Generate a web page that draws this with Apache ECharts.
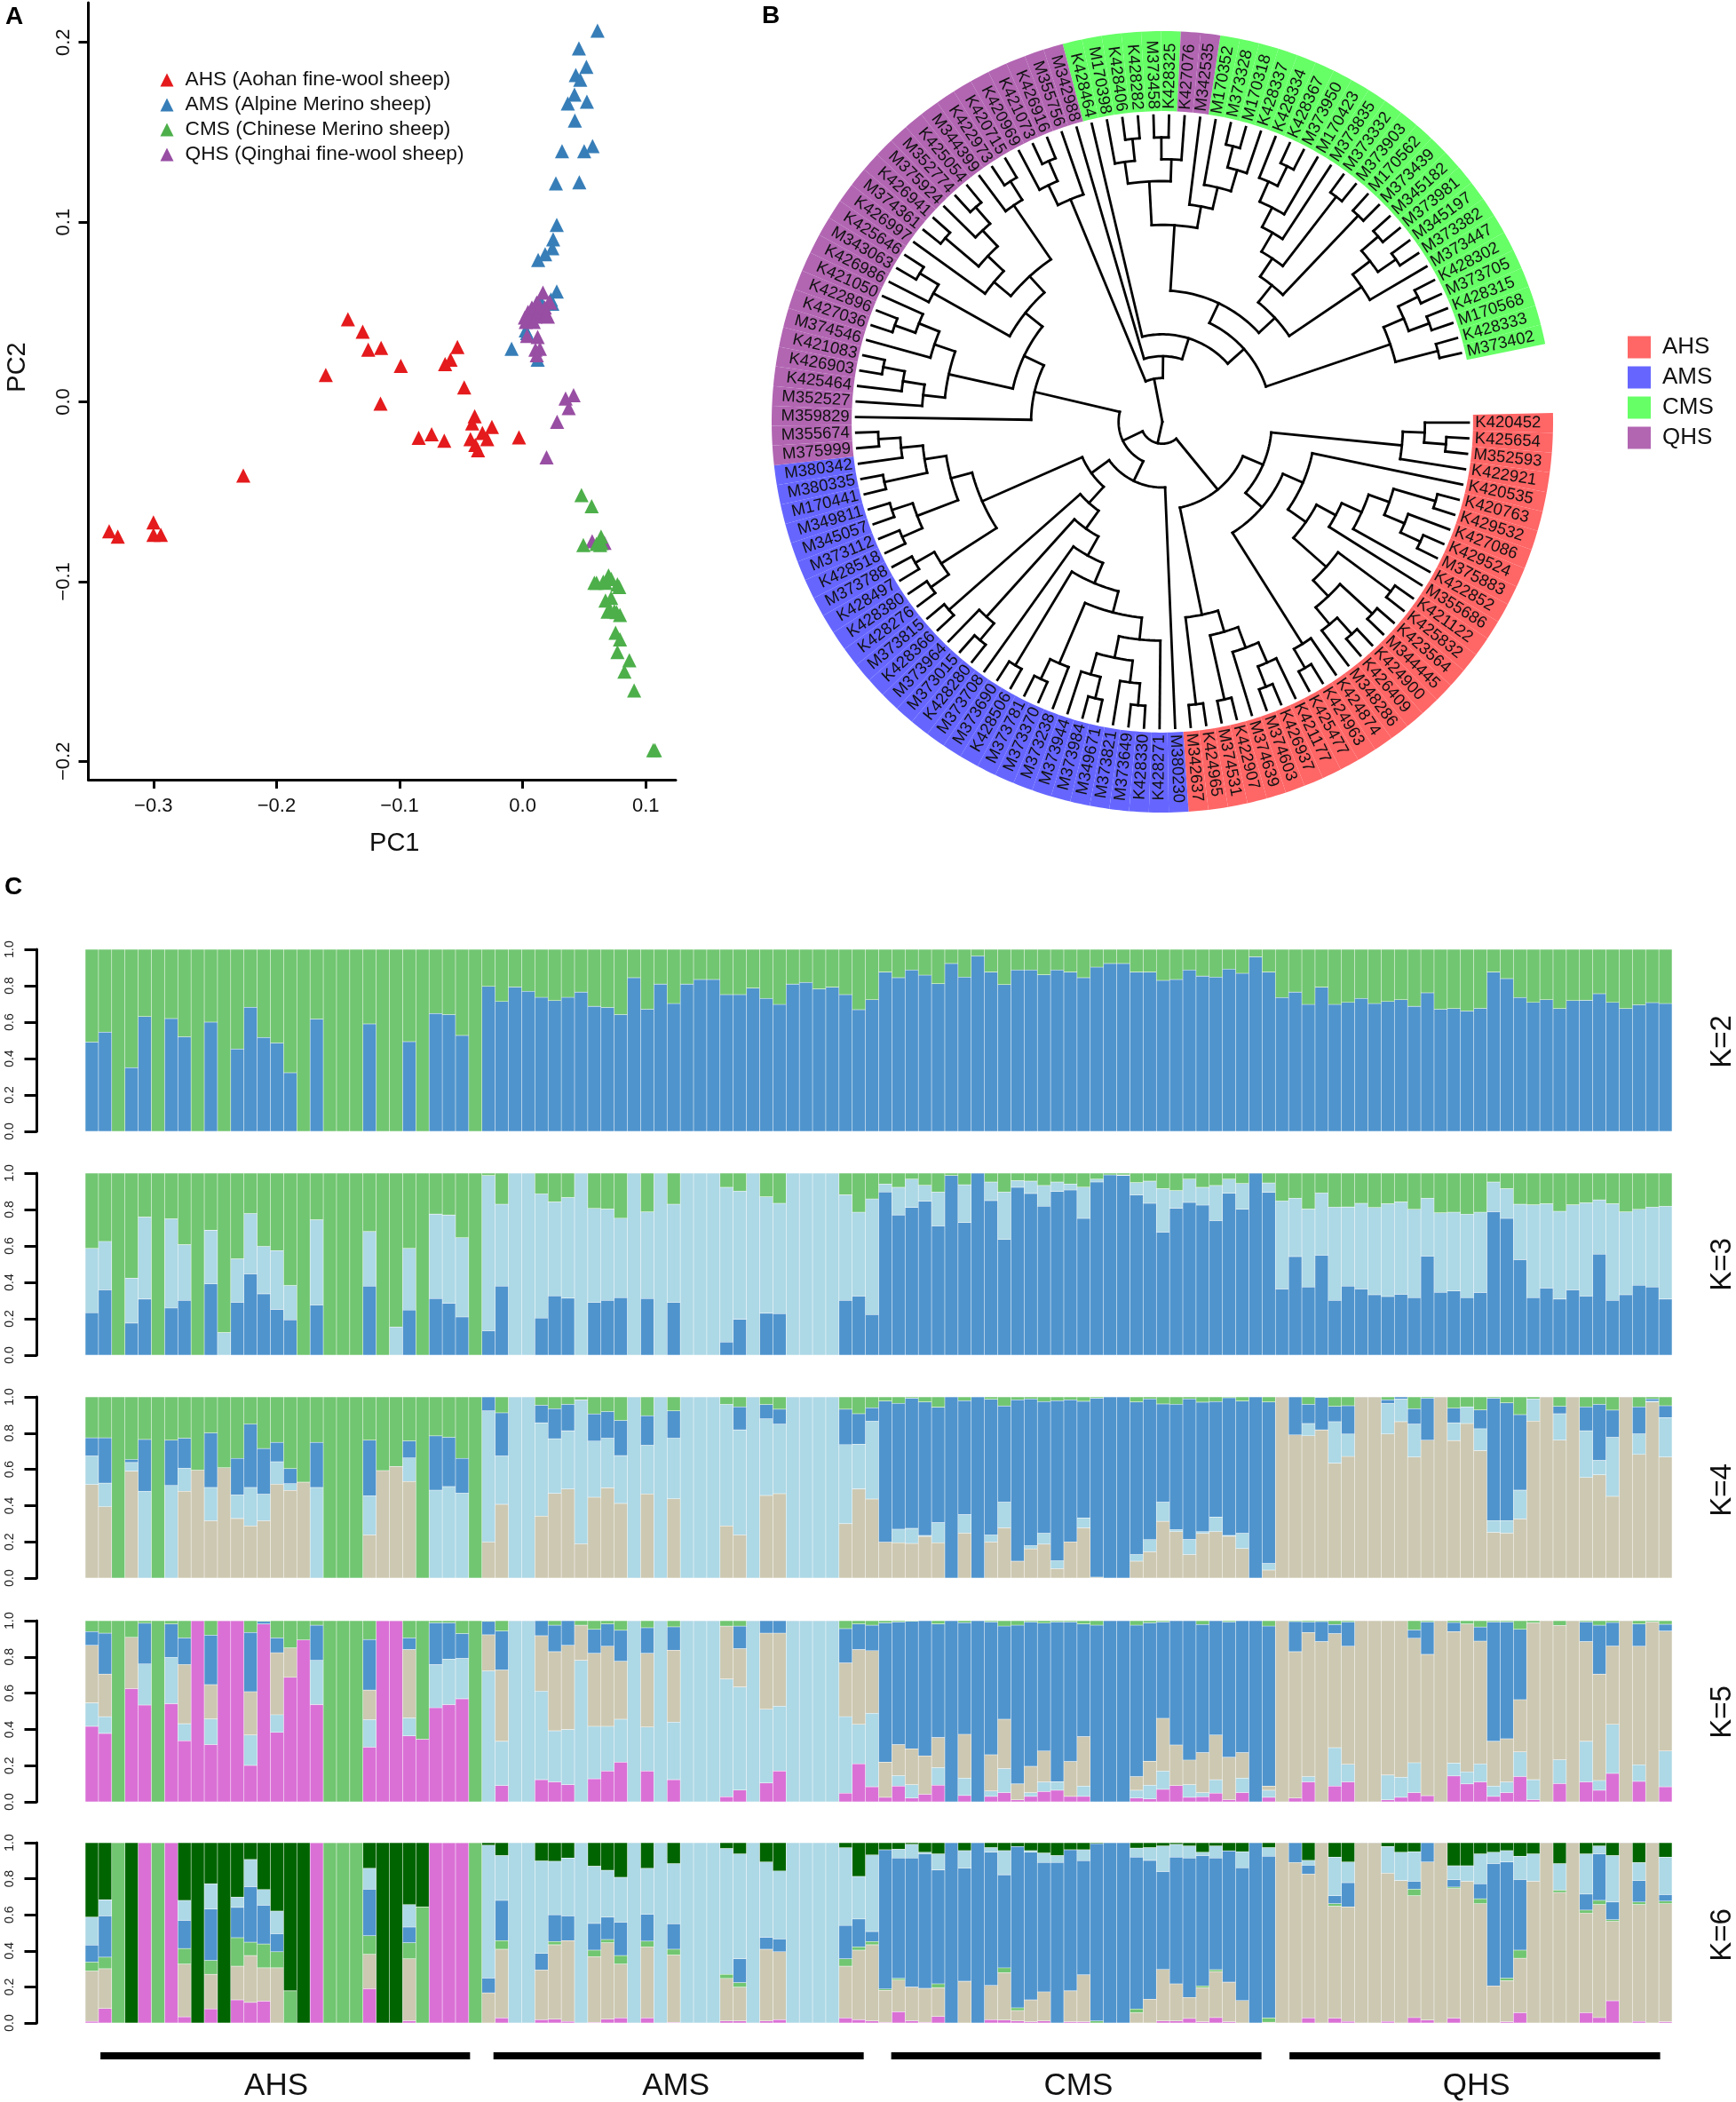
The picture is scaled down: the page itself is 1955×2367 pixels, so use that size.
<!DOCTYPE html>
<html><head><meta charset="utf-8">
<style>html,body{margin:0;padding:0;background:#fff}#c{width:1955px;height:2367px}</style>
<script src="https://cdn.jsdelivr.net/npm/echarts@6/dist/echarts.min.js"></script>
</head><body><div id="c"></div>
<script>
const FONT='"Liberation Sans",Arial,sans-serif';
// ---------- Panel A: PCA ----------
const pcaAHS=[[-.336,-.072],[-.329,-.075],[-.300,-.067],[-.300,-.074],[-.294,-.074],[-.227,-.041],[-.160,.015],[-.142,.046],[-.130,.039],[-.1255,.029],[-.115,.030],[-.099,.020],[-.1155,-.001],[-.063,.021],[-.0586,.0235],[-.053,.0305],[-.0475,.008],[-.039,-.008],[-.041,-.012],[-.0845,-.020],[-.074,-.018],[-.0637,-.0216],[-.0424,-.0207],[-.0327,-.0173],[-.025,-.0139],[-.0288,-.0207],[-.0385,-.024],[-.0363,-.0269],[-.003,-.0198]];
const pcaAMS=[[.0608,.2065],[.0457,.1966],[.0518,.1864],[.0432,.1818],[.0468,.1793],[.0421,.171],[.0367,.166],[.0522,.167],[.0424,.1565],[.032,.1395],[.05,.1395],[.0568,.1423],[.027,.1216],[.046,.1222],[.0277,.0985],[.0248,.0904],[.0241,.0855],[.0183,.0821],[.0126,.079],[.0277,.0614],[.0241,.0546],[.0115,.055],[.006,.049],[.0025,.0398],[.0036,.0383],[-.009,.0296],[.0122,.0235],[.023,.057],[.014,.057],[.008,.051]];
const pcaCMS=[[.0478,-.0519],[.0561,-.058],[.0637,-.075],[.0493,-.0796],[.06,-.079],[.063,-.0796],[.0698,-.0966],[.06,-.1006],[.0673,-.1006],[.0583,-.1006],[.077,-.1015],[.0719,-.109],[.0673,-.1105],[.0709,-.116],[.0763,-.117],[.0791,-.1185],[.069,-.1167],[.0755,-.1284],[.0791,-.1321],[.077,-.1392],[.0867,-.1438],[.0827,-.15],[.0906,-.1605],[.1061,-.1938],[.1075,-.1938],[.0655,-.1],[.072,-.0985],[.0745,-.1165],[.0640,-.0785],[.0785,-.103]];
const pcaQHS=[[.0165,.0608],[.0115,.0552],[.014,.053],[.0216,.0556],[.0043,.05],[.0018,.0469],[.0061,.0491],[.0104,.0475],[.0151,.0481],[.0205,.0475],[.0169,.0506],[.0223,.0552],[.0036,.0367],[.0122,.0361],[.014,.0296],[.0104,.029],[.0115,.0259],[.0414,.0037],[.0349,.0019],[.0374,-.0034],[.028,-.0111],[.0194,-.0309],[.0565,-.0775],[.0665,-.0784],[.0025,.0445],[.0075,.0525],[.0125,.0505],[.018,.0525],[.009,.0445],[.019,.049]];
const pcaNames=['AHS (Aohan fine-wool sheep)','AMS (Alpine Merino sheep)','CMS (Chinese Merino sheep)','QHS (Qinghai fine-wool sheep)'];
const pc1Ticks=[-0.3,-0.2,-0.1,0,0.1];
const pc2Ticks=[-0.2,-0.1,0,0.1,0.2];
// ---------- Panel B: tree ----------
const leafNames=['K420452','K425654','M352593','K422921','K420535','K420763','K429532','K427086','K429524','M375883','K422852','M355686','K421122','K425832','K423564','M344445','K424900','K426409','M348286','K424874','K424963','K425477','K421177','K426937','M374603','M374639','K422907','M374531','K424965','M342637',
'M380230','K428271','K428330','M373649','M373821','M349671','M373984','M373944','M373238','M373370','M373781','K428506','M373690','M373708','K428280','M373015','M373964','K428366','M373815','K428276','K428380','K428497','M373788','K428518','M373112','M345057','M349811','M170441','M380335','M380342',
'M375999','M355674','M359829','M352527','K425464','K426903','K421083','M374546','K427036','K422896','K421050','K426986','M343063','K425646','K426997','M374361','K426941','M375924','M352774','K425054','M344399','K422973','K420715','K420969','K421073','K426916','M355756','M342988',
'K428464','M170398','K428406','K428282','M373458','K428325','K427076','M342535',
'M170352','M373328','M170318','K428337','K428334','K428367','M373950','M170423','M373835','M373332','M373903','M170562','M373439','M345182','M373981','M345197','M373382','M373447','K428302','M373705','K428315','M170568','K428333','M373402'];
const leafGroupRuns=[['AHS',30],['AMS',30],['QHS',28],['CMS',6],['QHS',2],['CMS',24]];
const ringGroups=['AHS','AMS','CMS','QHS'];
const ringColors=['#FF6666','#6666FF','#66FF66','#B266B2'];
// clades (leaf numbers in ring order)
const ahsTop=[[0,[1,2]],3];
const ahsS=[[5,6],[7,[8,9]]];
const ahsU=[[ahsS,10],11];
const ahsN=[[16,17],18];
const ahsL=[[12,13],[[14,15],ahsN]];
const ahsW=[[4,[ahsU,ahsL]],[19,[20,21]]];
const ahsZ=[[[[[22,[23,24]],25],[26,27]],[28,29]]][0];
const ahsClade=[[ahsTop,ahsW],ahsZ];
const amsP=[[[32,33],34],[[35,36],37]];
const amsM=[[31,amsP],[38,[39,40]]];
const amsK=[[amsM,[41,42]],43];
const amsH=[[amsK,[[44,45],46]],[47,48]];
const amsF=[[[49,50],[51,52]],[[[53,54],[55,56]],[[57,58],[59,[60,61]]]]];
const amsClade=[30,[amsH,amsF]];
const qhsL=[[63,[64,[65,66]]],[67,[[68,69],70]]];
const qhsU=[[71,[72,73]],[[74,[[75,76],[77,[78,79]]]],[80,[81,82]]]];
const qhsClade=[62,[qhsL,qhsU]];
const cmsA=[[[89,[90,91]],[[92,93],94]],[95,[96,[[97,98],99]]]];
const cmsB=[[[[[[100,[101,102]],103],104],[105,106]],[107,108]],[[[109,110],[111,112]],113]];
const cmsC=[[[114,115],[116,117]],[118,119]];
const cmsClade=[[[83,[84,85]],86],[87,[88,[[cmsA,cmsB],cmsC]]]];
const treeRoot=[[ahsClade,[amsClade,qhsClade]],cmsClade];
const k2Blue=[.49,.545,0,.35,.63,0,.62,.52,0,.60,0,.453,.682,.516,.485,.322,0,.617,0,0,0,.59,0,0,.493,0,.647,.642,.527,0,
.796,.713,.793,.769,.736,.718,.736,.765,.687,.68,.642,.844,.671,.809,.702,.809,.834,.834,.751,.751,.787,.73,.697,.809,.818,.782,.792,.751,.668,.723,
.875,.844,.886,.858,.811,.922,.847,.963,.875,.806,.886,.886,.86,.886,.875,.844,.902,.922,.922,.875,.875,.829,.834,.886,.853,.847,.891,.868,.959,.875,
.735,.765,.697,.792,.697,.708,.73,.702,.713,.723,.687,.761,.671,.674,.661,.676,.875,.839,.735,.708,.723,.674,.718,.72,.756,.708,.674,.695,.707,.702];
const k3Blue=[.233,.358,0,.176,.308,0,.259,.301,0,.391,0,.29,.446,.337,.251,.194,0,.275,0,0,0,.379,0,0,.248,0,.311,.285,.21,0,
.134,.379,0,0,.204,.326,.313,0,.29,.301,.316,0,.311,0,.29,0,0,0,.072,.197,0,.23,.228,0,0,0,0,.301,.324,.223,
.896,.77,.811,.845,.71,.987,.728,1,.849,.635,.922,.888,.818,.899,.907,.751,.951,.99,.987,.879,.834,.676,.806,.839,.824,.739,.889,.801,1,.894,
.363,.541,.375,.549,.301,.379,.363,.332,.322,.334,.316,.544,.345,.353,.316,.344,.788,.751,.524,.316,.368,.308,.358,.324,.555,.301,.332,.384,.375,.308];
const k3Light=[.586,.625,0,.423,.759,0,.749,.607,0,.686,.124,.529,.778,.598,.575,.383,0,.744,0,0,0,.679,0,.155,.586,0,.775,.77,.645,0,
.987,.829,1,1,.886,.842,.866,1,.806,.803,.752,1,.787,1,.829,1,1,1,.922,.901,1,.87,.834,1,1,1,1,.881,.785,.858,
.94,.922,.967,.933,.896,.987,.936,1,.951,.896,.959,.956,.932,.951,.94,.923,.967,.99,.99,.948,.956,.915,.904,.967,.922,.932,.967,.943,1,.946,
.847,.862,.803,.891,.813,.814,.834,.811,.832,.842,.801,.862,.782,.785,.774,.785,.951,.915,.829,.826,.832,.79,.826,.837,.853,.832,.787,.801,.813,.818];
const k4Tan=[.516,.394,0,.59,0,0,0,.479,.596,.316,.609,.329,.288,.316,.518,.484,.529,0,0,0,0,.238,.593,.617,.533,0,0,0,0,0,
.199,.407,0,0,.342,.467,.492,.189,.446,.498,.412,0,.464,0,.438,0,0,0,.288,.238,0,.456,.466,0,0,0,0,.3,.492,.436,
.199,.195,.191,.23,.195,0,.248,0,.199,.277,.093,.161,.187,.052,.2,.277,.005,0,0,.093,.145,.313,.256,.13,.246,.256,.231,.163,0,.044,
1,.79,.785,.818,.634,.671,1,1,.795,.863,.668,.761,1,.759,.853,.704,.252,.248,.326,.866,1,.761,1,.555,.57,.451,1,.682,.972,.668];
const k4Light=[.674,.524,0,.638,.479,0,.511,.606,.596,.5,.609,.459,.5,.463,.642,.521,.529,.5,0,0,0,.454,.593,.617,.663,0,.485,.505,.469,0,
.923,.674,1,1,.857,.769,.813,.984,.756,.772,.676,1,.733,1,.772,1,1,1,.959,.818,1,.879,.85,1,1,1,1,.736,.739,.866,
.199,.27,.274,.235,.306,0,.35,0,.238,.419,.093,.179,.248,.096,.2,.332,.005,0,0,.13,.212,.419,.267,.213,.256,.337,.235,.248,0,.081,
1,.79,.853,.818,.863,.795,1,1,.964,.989,.85,.761,1,.857,.945,.824,.318,.318,.485,.989,1,.907,1,.813,.65,.777,1,.796,.976,.886];
const k4Blue=[.774,.774,0,.655,.765,0,.761,.772,.596,.801,.609,.661,.85,.715,.749,.604,.529,.749,0,0,0,.761,.593,.617,.757,0,.785,.777,.661,0,
1,.912,1,1,.954,.935,.959,.984,.906,.919,.87,1,.896,1,.923,1,1,1,.959,.945,1,.958,.932,1,1,1,1,.932,.907,.94,
.977,.964,.993,.972,.943,1,.979,1,.987,.95,.984,.989,.974,.979,.984,.976,.993,1,1,.972,.989,.961,.959,.989,.971,.974,.995,.977,1,.972,
1,1,.959,.997,.948,.951,1,1,.984,1,.935,.993,1,.938,.945,.928,.993,.967,.902,.989,1,.948,1,.945,.959,.927,1,.945,.989,.951];
const k5Pink=[.417,.378,0,.625,.534,0,.542,.337,1,.316,1,1,.201,.982,.383,.687,.894,.537,0,0,0,.302,1,1,.364,.346,.519,.537,.569,0,
0,.09,0,0,.122,.11,.095,0,.127,.17,.219,0,.17,0,.122,0,0,0,.028,.065,0,.104,.17,0,0,0,0,.048,.21,.083,
.025,.087,.021,.042,.092,0,.035,0,.03,.051,.011,.03,.057,.064,.03,.03,0,0,0,.021,.016,.069,.09,.025,.028,.048,.012,.051,0,.025,
0,.021,.11,0,.087,.11,0,0,.011,.025,.051,.034,0,.143,.099,.11,.03,.051,.14,.012,0,.101,0,.11,.064,.157,0,.113,0,.083];
const k5Light=[.546,.47,0,.625,.761,0,.797,.431,1,.458,1,1,.369,.982,.481,.687,.894,.781,0,0,0,.454,1,1,.463,.346,.758,.788,.792,0,
.723,.334,1,1,.611,.392,.399,.781,.417,.417,.456,1,.413,1,.44,1,1,1,.678,.634,1,.511,.528,1,1,1,1,.47,.428,.489,
.025,.145,.095,.042,.189,0,.131,0,.06,.184,.011,.051,.11,.111,.03,.087,0,0,0,.064,.092,.17,.09,.095,.051,.122,.012,.131,0,.064,
0,.021,.14,0,.299,.207,0,0,.148,.136,.216,.034,0,.214,.166,.21,.087,.11,.276,.122,0,.233,0,.334,.118,.428,0,.205,0,.281];
const k5Tan=[.864,.705,0,.908,.761,0,.797,.758,1,.647,1,1,.608,.982,.823,.85,.894,.781,0,0,0,.617,1,1,.841,.346,.758,.788,.792,0,
.922,.728,1,1,.917,.829,.864,.975,.82,.859,.776,1,.82,1,.837,1,1,1,.97,.846,1,.931,.931,1,1,1,1,.767,.841,.834,
.219,.316,.293,.254,.355,0,.373,0,.26,.456,.099,.196,.281,.111,.223,.36,0,0,0,.14,.224,.461,.314,.231,.272,.369,.246,.272,0,.087,
1,.829,.935,.885,.929,.859,1,1,1,1,.903,.814,1,.94,.982,.887,.334,.348,.564,.988,1,.974,1,.885,.705,.86,1,.859,.993,.943];
const k5Blue=[.94,.931,0,.908,.986,0,.982,.905,1,.92,1,1,.935,.996,.905,.85,.894,.975,0,0,0,.896,1,1,.905,.346,.988,.988,.929,0,
.996,.943,1,1,1,.975,1,.975,.952,.982,.947,1,.961,1,.966,1,1,1,.97,.97,1,1,1,1,1,1,1,.956,.982,.975,
.988,.993,.996,1,.982,1,.989,1,.993,.97,.975,.993,.986,.993,.993,.982,.975,1,1,.975,.988,.993,1,1,.979,1,.993,1,1,.97,
1,.995,.993,.995,.979,.993,1,1,1,1,.949,.993,1,.99,.982,.965,.993,.993,.952,.988,1,.974,1,.993,.975,.99,1,.982,.993,.98];
const k6Pink=[.009,.08,0,0,1,0,1,.034,0,.078,0,.128,.114,.121,0,0,0,1,0,0,0,.19,0,0,.012,0,1,1,1,0,
0,.028,0,0,.018,.021,.009,0,.004,.021,.028,0,.028,0,.004,0,0,0,.011,.011,0,.011,.018,0,0,0,0,.028,.018,.011,
.004,.062,.012,.004,.036,0,0,0,.018,.016,.011,.007,.011,0,.007,.007,0,0,0,0,0,.011,.011,.025,.007,.03,.007,0,0,0,
0,0,.028,0,.027,.009,0,0,.009,0,.03,.016,0,.027,0,0,0,.007,.057,0,0,0,0,.057,.03,.123,0,.009,0,.007];
const k6Tan=[.288,.301,0,0,1,0,1,.327,0,.27,0,.315,.374,.306,.306,0,0,1,0,0,0,.381,0,0,.356,0,1,1,1,0,
.167,.409,0,0,.294,.434,.457,0,.368,.445,.327,0,.422,0,.377,0,0,0,.247,.199,0,.409,.395,0,0,0,0,.315,.404,.434,
.181,.238,.199,.192,.196,0,.231,0,.208,.279,.069,.128,.173,0,.178,.267,0,0,0,.057,.132,.297,.217,.142,.196,.285,.226,.125,0,.004,
1,.89,.826,1,.648,.644,1,1,.831,.79,.706,.893,1,.746,.786,.662,.206,.235,.359,.786,1,.724,1,.609,.657,.564,1,.657,1,.662];
const k6Green=[.338,.365,1,0,1,1,1,.413,0,.347,0,.473,.448,.438,.395,.178,0,1,1,1,1,.484,0,0,.445,.644,1,1,1,1,
.167,.457,0,0,.294,.452,.457,0,.404,.463,.374,0,.454,0,.409,0,0,0,.27,.224,0,.409,.395,0,0,0,0,.356,.422,.452,
.189,.247,.199,.192,.217,0,.231,0,.208,.306,.084,.128,.173,0,.178,.267,.011,0,0,.078,.132,.297,.217,.142,.206,.295,.226,.125,0,.028,
1,.89,.826,1,.662,.644,1,1,.831,.79,.742,.893,1,.754,.786,.689,.206,.249,.404,.786,1,.737,1,.626,.68,.573,1,.671,1,.676];
const k6Blue=[.432,.594,1,0,1,1,1,.569,0,.632,0,.641,.756,.653,.495,.178,0,1,1,1,1,.742,0,0,.532,.644,1,1,1,1,
.249,.68,0,0,.386,.6,.594,0,.552,.587,.559,0,.603,0,.55,0,0,0,.27,.356,0,.475,.466,0,0,0,0,.541,.577,.507,
.961,.915,.915,.938,.849,1,.858,1,.947,.822,.979,.947,.89,.89,.961,.9,.995,1,1,.92,.902,.84,.92,.915,.929,.915,.955,.861,1,.925,
1,1,.875,1,.706,.778,1,1,.831,.79,.786,1,1,.795,.786,.772,.884,.893,.795,.786,1,.737,1,.715,.938,.671,1,.79,1,.712];
const k6Light=[.587,.683,1,0,1,1,1,.68,0,.772,0,.698,.907,.74,.621,.178,0,1,1,1,1,.858,0,0,.657,.644,1,1,1,1,
.986,.929,1,1,.899,.897,.915,1,.87,.847,.808,1,.858,1,.884,1,1,1,.968,.938,1,.893,.843,1,1,1,1,.972,.813,.932,
.961,.964,.991,.947,.938,1,.956,1,.973,.956,.979,.956,.943,.929,.961,.961,.995,1,1,.97,.973,.982,.991,.982,.947,.982,.955,.95,1,.973,
1,1,.902,1,.92,.893,1,1,.979,.947,.95,1,1,.872,.872,.938,.947,.956,.925,.938,1,.884,1,.938,.982,.929,1,.89,1,.92];
const BLUE='#4F94CD',GREEN='#71C671',LIGHT='#ADD8E6',TAN='#CDC8B1',PINK='#DA70D6',DARK='#006400';
const panels=[
 {label:'K=2',tops:[k2Blue],colors:[BLUE,GREEN]},
 {label:'K=3',tops:[k3Blue,k3Light],colors:[BLUE,LIGHT,GREEN]},
 {label:'K=4',tops:[k4Tan,k4Light,k4Blue],colors:[TAN,LIGHT,BLUE,GREEN]},
 {label:'K=5',tops:[k5Pink,k5Light,k5Tan,k5Blue],colors:[PINK,LIGHT,TAN,BLUE,GREEN]},
 {label:'K=6',tops:[k6Pink,k6Tan,k6Green,k6Blue,k6Light],colors:[PINK,TAN,GREEN,BLUE,LIGHT,DARK]}
];
const populations=['AHS','AMS','CMS','QHS'];
const populationSpans=[[1.15,29.1],[30.87,58.87],[60.95,88.95],[91.07,119.1]];
const populationLabelAt=[14.44,44.66,75.1,105.2];
// ---------- layout ----------
const panelTop=[1069,1321,1573,1825,2075], panelH=[205,205,204,204,203], kLabelY=[1172,1423,1677,1927,2178];
const sampleCols=Array.from({length:120},(_,i)=>i+1);
const grids=[{left:99.5,width:661.5,top:3,height:875}];
const xAxes=[{gridIndex:0,type:'value',min:-0.3529,max:0.1244,axisLine:{onZero:false,lineStyle:{color:'#000',width:3}},splitLine:{show:false},
 axisTick:{length:10,lineStyle:{color:'#000',width:3},customValues:pc1Ticks},
 axisLabel:{customValues:pc1Ticks,margin:19,fontSize:22,fontFamily:FONT,color:'#111',formatter:v=>(+v).toFixed(1).replace('-','\u2212')},
 name:'PC1',nameLocation:'middle',nameGap:57.5,nameTextStyle:{fontSize:29,fontFamily:FONT,color:'#111',padding:[0,0,0,28]}}];
const yAxes=[{gridIndex:0,type:'value',min:-0.2102,max:0.2221,axisLine:{onZero:false,lineStyle:{color:'#000',width:3}},splitLine:{show:false},
 axisTick:{length:11,lineStyle:{color:'#000',width:3},customValues:pc2Ticks},
 axisLabel:{customValues:pc2Ticks,rotate:90,margin:17,fontSize:22,fontFamily:FONT,color:'#111',formatter:v=>(+v).toFixed(1).replace('-','\u2212')},
 name:'PC2',nameLocation:'middle',nameRotate:90,nameGap:65.5,nameTextStyle:{fontSize:29,fontFamily:FONT,color:'#111',padding:[0,0,0,54]}}];
const series=[];
function tri(name,data,color){return {type:'scatter',name,data,xAxisIndex:0,yAxisIndex:0,symbol:'triangle',symbolSize:16,itemStyle:{color,opacity:1},silent:true};}
series.push(tri(pcaNames[0],pcaAHS,'#E41A1C'),tri(pcaNames[1],pcaAMS,'#377EB8'),tri(pcaNames[3],pcaQHS,'#984EA3'),tri(pcaNames[2],pcaCMS,'#4DAF4A'));
// tree: a row per branch
const LEAF_DEPTH=14;
const treeRows=[];
function walk(n){
 if(typeof n==='number') return {angle:n,height:0};
 const kids=n.map(walk);
 const height=Math.max(...kids.map(k=>k.height))+1;
 const angle=(kids[0].angle+kids[kids.length-1].angle)/2;
 treeRows.push([LEAF_DEPTH-height,angle,kids[0].angle,kids[kids.length-1].angle]);
 kids.forEach(k=>treeRows.push([LEAF_DEPTH-k.height,k.angle,LEAF_DEPTH-height,-1]));
 return {angle,height};
}
walk(treeRoot);
series.push({type:'custom',coordinateSystem:'polar',name:'tree',silent:true,clip:false,data:treeRows,encode:{radius:0,angle:1},
 renderItem:(p,api)=>{
  const d=api.value(0),a=api.value(1),v2=api.value(2),v3=api.value(3);
  const pts=[];
  if(v3===-1){pts.push(api.coord([d,a]),api.coord([v2,a]));}
  else{const n=Math.max(2,Math.ceil(Math.abs(v3-v2)*2));for(let i=0;i<=n;i++)pts.push(api.coord([d,v2+(v3-v2)*i/n]));}
  return {type:'polyline',shape:{points:pts},style:{stroke:'#000',lineWidth:2.8,fill:null,lineCap:'square',lineJoin:'round'},z2:5};
 }});
// ring cells
const leafGroup=[];leafGroupRuns.forEach(([g,n])=>{for(let i=0;i<n;i++)leafGroup.push(g);});
const RING0=14.2,RING1=17.857,TEXT0=14.3;
ringGroups.forEach((g,gi)=>{
 const rows=[];leafNames.forEach((n,i)=>{if(leafGroup[i]===g)rows.push([RING0,i]);});
 series.push({type:'custom',coordinateSystem:'polar',name:g,silent:true,clip:false,data:rows,encode:{radius:0,angle:1},itemStyle:{color:ringColors[gi]},
  renderItem:(p,api)=>{
   const i=api.value(1),pts=[];
   for(let t=0;t<=4;t++)pts.push(api.coord([RING0,i-.5+t/4]));
   for(let t=4;t>=0;t--)pts.push(api.coord([RING1,i-.5+t/4]));
   const a=api.coord([TEXT0,i]),b=api.coord([RING1,i]);
   const phi=Math.atan2(-(b[1]-a[1]),b[0]-a[0]);
   const right=Math.cos(phi)>=0;
   return {type:'group',children:[
    {type:'polygon',shape:{points:pts},style:{fill:api.visual('color')}},
    {type:'text',x:a[0],y:a[1],rotation:right?phi:phi-Math.PI,originX:0,originY:0,z2:3,
     style:{text:leafNames[i],x:0,y:0,align:right?'left':'right',verticalAlign:'middle',font:'18.5px '+FONT,fill:'#111'}}
   ]};
  }});
});
// structure panels
panels.forEach((p,pi)=>{
 const gi=pi+1;
 grids.push({left:96,width:1787,top:panelTop[pi],height:panelH[pi]});
 xAxes.push({gridIndex:gi,type:'category',data:sampleCols,show:false,boundaryGap:true});
 yAxes.push({gridIndex:gi,type:'value',min:0,max:1,interval:0.2,offset:54.5,position:'left',splitLine:{show:false},
  axisLine:{show:true,onZero:false,lineStyle:{color:'#000',width:3}},axisTick:{show:true,length:14,lineStyle:{color:'#000',width:3}},
  axisLabel:{rotate:90,margin:23,fontSize:14,fontFamily:FONT,color:'#222',formatter:v=>(+v).toFixed(1)}});
 const prev=sampleCols.map(()=>0);
 p.colors.forEach((c,si)=>{
  const tops=si<p.tops.length?p.tops[si]:sampleCols.map(()=>1);
  const seg=tops.map((t,i)=>{const top=Math.max(t,prev[i]);const h=top-prev[i];prev[i]=top;return +h.toFixed(3);});
  series.push({type:'bar',xAxisIndex:gi,yAxisIndex:gi,stack:'k'+pi,data:seg,barWidth:'100%',barGap:0,silent:true,
   itemStyle:{color:c,borderColor:'rgba(255,255,255,0.1)',borderWidth:0.5}});
 });
});
// population bars
const popGi=panels.length+1;
grids.push({left:96,width:1787,top:2311,height:8});
xAxes.push({gridIndex:popGi,type:'value',min:0,max:120,show:false});
yAxes.push({gridIndex:popGi,type:'value',min:0,max:1,show:false});
series.push({type:'custom',xAxisIndex:popGi,yAxisIndex:popGi,silent:true,clip:false,
 data:populationSpans.map((s,i)=>[s[0],s[1],populationLabelAt[i]]),encode:{x:[0,1,2]},
 renderItem:(p,api)=>{
  const a=api.coord([api.value(0),1]),b=api.coord([api.value(1),0]),c=api.coord([api.value(2),0]);
  return {type:'group',children:[
   {type:'rect',shape:{x:a[0],y:a[1],width:b[0]-a[0],height:b[1]-a[1]},style:{fill:'#000'}},
   {type:'text',x:c[0],y:c[1]+30,style:{text:populations[p.dataIndex],align:'center',verticalAlign:'middle',font:'35px '+FONT,fill:'#111'}}
  ]};
 }});
const graphic=[
 {type:'text',left:6,top:5,style:{text:'A',font:'bold 28px '+FONT,fill:'#000'}},
 {type:'text',left:858,top:4,style:{text:'B',font:'bold 28px '+FONT,fill:'#000'}},
 {type:'text',left:5,top:985,style:{text:'C',font:'bold 28px '+FONT,fill:'#000'}}
];
panels.forEach((p,i)=>graphic.push({type:'text',x:1940,y:kLabelY[i]+1,rotation:Math.PI/2,style:{text:p.label,align:'center',verticalAlign:'middle',font:'33px '+FONT,fill:'#111'}}));
const chart=echarts.init(document.getElementById('c'),null,{renderer:'canvas',width:1955,height:2367});
chart.setOption({animation:false,backgroundColor:'#fff',textStyle:{fontFamily:FONT},
 grid:grids,xAxis:xAxes,yAxis:yAxes,
 polar:{center:[1309,475],radius:440},
 angleAxis:{type:'value',min:-0.5,max:123,startAngle:1.3,clockwise:true,show:false,splitLine:{show:false}},
 radiusAxis:{type:'value',min:0,max:17.857,show:false,splitLine:{show:false}},
 legend:[
  {data:pcaNames,orient:'vertical',left:180.5,top:78,icon:'triangle',itemWidth:15,itemHeight:15,itemGap:4,selectedMode:false,padding:0,textStyle:{fontSize:22.7,lineHeight:24,fontFamily:FONT,color:'#111',padding:[0,0,0,8]}},
  {data:ringGroups,orient:'vertical',left:1833,top:378,icon:'rect',itemWidth:26,itemHeight:25,itemGap:8,selectedMode:false,padding:0,textStyle:{fontSize:26,lineHeight:25,fontFamily:FONT,color:'#111',padding:[0,0,0,8]}}
 ],
 graphic,series});
</script></body></html>
